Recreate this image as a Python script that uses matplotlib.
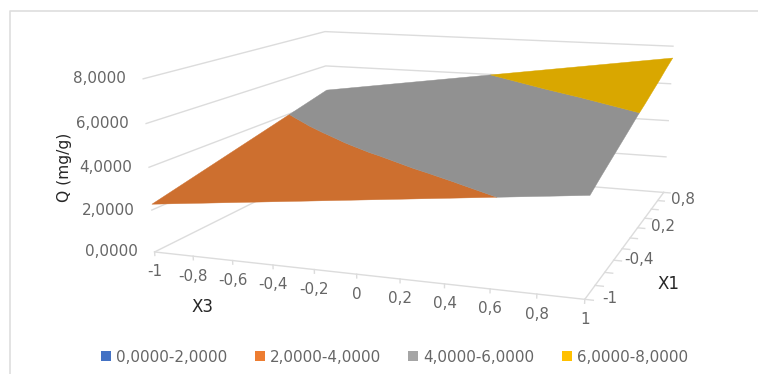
import numpy as np
import matplotlib
matplotlib.use('Agg')
import matplotlib.pyplot as plt
from matplotlib.lines import Line2D
from matplotlib.patches import Patch
from mpl_toolkits.mplot3d import proj3d
from mpl_toolkits.mplot3d.art3d import Poly3DCollection

x3_vals = [-1, -0.8, -0.6, -0.4, -0.2, 0, 0.2, 0.4, 0.6, 0.8, 1]
x1_vals = [-1, -0.8, -0.6, -0.4, -0.2, 0, 0.2, 0.4, 0.6, 0.8, 1]
x3_labels = ['-1', '-0,8', '-0,6', '-0,4', '-0,2', '0', '0,2', '0,4', '0,6', '0,8', '1']
x1_labels = {-1: '-1', -0.4: '-0,4', 0.2: '0,2', 0.8: '0,8'}
z_ticks = [0, 2, 4, 6, 8]
z_labels = ['0,0000', '2,0000', '4,0000', '6,0000', '8,0000']

# one row per X1 value, columns follow X3
q_xm10 = [2.30, 2.51, 2.72, 2.93, 3.14, 3.35, 3.56, 3.77, 3.98, 4.19, 4.40]
q_xm08 = [2.53, 2.75, 2.97, 3.17, 3.39, 3.60, 3.81, 4.03, 4.25, 4.50, 4.72]
q_xm06 = [2.76, 3.00, 3.24, 3.46, 3.67, 3.88, 4.09, 4.32, 4.56, 4.80, 5.02]
q_xm04 = [2.99, 3.24, 3.49, 3.71, 3.92, 4.13, 4.36, 4.60, 4.85, 5.09, 5.32]
q_xm02 = [3.22, 3.48, 3.72, 3.95, 4.19, 4.42, 4.66, 4.90, 5.14, 5.38, 5.62]
q_x000 = [3.45, 3.70, 3.95, 4.21, 4.46, 4.70, 4.94, 5.18, 5.41, 5.66, 5.93]
q_xp02 = [3.68, 3.94, 4.22, 4.49, 4.74, 5.00, 5.25, 5.47, 5.71, 5.94, 6.20]
q_xp04 = [3.91, 4.18, 4.47, 4.75, 5.03, 5.30, 5.50, 5.72, 5.95, 6.21, 6.50]
q_xp06 = [4.14, 4.45, 4.75, 5.04, 5.30, 5.53, 5.73, 5.98, 6.25, 6.53, 6.79]
q_xp08 = [4.37, 4.67, 4.96, 5.25, 5.50, 5.72, 5.99, 6.28, 6.56, 6.84, 7.11]
q_xp10 = [4.60, 4.88, 5.16, 5.44, 5.72, 6.00, 6.28, 6.56, 6.84, 7.12, 7.40]

levels = [0, 2, 4, 6, 8]
legend_labels = ['0,0000-2,0000', '2,0000-4,0000', '4,0000-6,0000', '6,0000-8,0000']
legend_colors = ['#4472c4', '#ed7d31', '#a5a5a5', '#ffc000']
band_colors = ['#4472c4', '#cd6f2f', '#919191', '#d9a700']

W, H = 758, 374
TEXT = '#666666'
GRID = '#dcdcdc'
FS = 10.9

# camera
axes_center = (403.18, 297.22)
axes_side = 678.66
elev, azim = 17.92, -69.95
scale = (0.1924, 0.1891, 0.0190)
look_x3, look_x1 = 0.2923, -1.1017


def surface_height(x, y, xs, ys, Q):
    i = np.clip(np.searchsorted(xs, x) - 1, 0, len(xs) - 2)
    j = np.clip(np.searchsorted(ys, y) - 1, 0, len(ys) - 2)
    tx = (x - xs[i]) / (xs[i + 1] - xs[i])
    ty = (y - ys[j]) / (ys[j + 1] - ys[j])
    return (Q[j, i] * (1 - tx) * (1 - ty) + Q[j, i + 1] * tx * (1 - ty)
            + Q[j + 1, i] * (1 - tx) * ty + Q[j + 1, i + 1] * tx * ty)


xs = np.array(x3_vals, float)
ys = np.array(x1_vals, float)
Q = np.array([q_xm10, q_xm08, q_xm06, q_xm04, q_xm02, q_x000,
              q_xp02, q_xp04, q_xp06, q_xp08, q_xp10])

# band outlines in the X3/X1 plane
tmp_fig, tmp_ax = plt.subplots()
cs = tmp_ax.contourf(xs, ys, Q, levels=levels)
band_polys = [p.to_polygons(closed_only=True) for p in cs.get_paths()]
plt.close(tmp_fig)

fig = plt.figure(figsize=(W / 100, H / 100), dpi=100)

box = np.array([2 * scale[0], 2 * scale[1], 8 * scale[2]])
box_units = 1.8294640721620434 * 25 / 24 / np.linalg.norm(box)
ax = fig.add_axes([(axes_center[0] - axes_side / 2) / W, (H - axes_center[1] - axes_side / 2) / H,
                   axes_side / W, axes_side / H], projection='3d')
ax.set_axis_off()
ax.patch.set_alpha(0)
ax.computed_zorder = False
ax.set_xlim(look_x3 - 1, look_x3 + 1)
ax.set_ylim(look_x1 - 1, look_x1 + 1)
ax.set_zlim(-4, 4)
ax.set_box_aspect(box)
ax.view_init(elev=elev, azim=azim, roll=0)
ax.set_proj_type('persp', focal_length=box_units / 10)

# wall gridlines
for z in z_ticks:
    ax.plot([-1, -1, 1], [-1, 1, 1], [z, z, z], color=GRID, lw=1, zorder=1)

# floor axes and ticks
ax.plot([-1, 1, 1], [-1, -1, 1], [0, 0, 0], color=GRID, lw=1, zorder=1)
for x in x3_vals:
    ax.plot([x, x], [-1, -1], [0, -0.17], color=GRID, lw=1, zorder=1)
for y in x1_vals:
    ax.plot([1, 1.035], [y, y], [0, 0], color=GRID, lw=1, zorder=1)

# surface bands
for polys, color in zip(band_polys, band_colors):
    for poly in polys:
        verts = np.array([[px, py, surface_height(px, py, xs, ys, Q)] for px, py in poly])
        ax.add_collection3d(Poly3DCollection([verts], facecolors=color, edgecolors=color,
                                             linewidths=0.3, zorder=2))

M = ax.get_proj()


def put(label, x, y, z, dx, dy, **kw):
    px, py, _ = proj3d.proj_transform(x, y, z, M)
    ax.annotate(label, (px, py), xytext=(dx, dy), textcoords='offset pixels', xycoords='data',
                fontsize=FS, color=TEXT, annotation_clip=False, **kw)


for x, label in zip(x3_vals, x3_labels):
    put(label, x, -1, 0, 0, -20, ha='center', va='center')
for y, label in x1_labels.items():
    put(label, 1, y, 0, 25, 1, ha='center', va='center')
for z, label in zip(z_ticks, z_labels):
    put(label, -1, -1, z, -17, 0, ha='right', va='center')

# axis titles
fig.text(65 / W, 1 - 167 / H, 'Q (mg/g)', rotation=90, fontsize=11.2, color='#262626', ha='center', va='center')
fig.text(203 / W, 1 - 307 / H, 'X3', fontsize=12, color='#262626', ha='center', va='center')
fig.text(668 / W, 1 - 284 / H, 'X1', fontsize=12, color='#262626', ha='center', va='center')

# chart frame, open on the right and at the bottom
fig.add_artist(Line2D([9.5 / W, 9.5 / W, 1], [0, 1 - 10.5 / H, 1 - 10.5 / H], color='#dedede', lw=1.2))

handles = [Patch(facecolor=c, edgecolor='none') for c in legend_colors]
fig.legend(handles=handles, labels=legend_labels, ncol=4, loc='center', bbox_to_anchor=(394.5 / W, 17 / H),
           frameon=False, fontsize=FS, labelcolor=TEXT, handlelength=0.66, handleheight=0.66,
           handletextpad=0.33, columnspacing=1.81, borderpad=0, borderaxespad=0)

fig.savefig('out.png', dpi=100)
